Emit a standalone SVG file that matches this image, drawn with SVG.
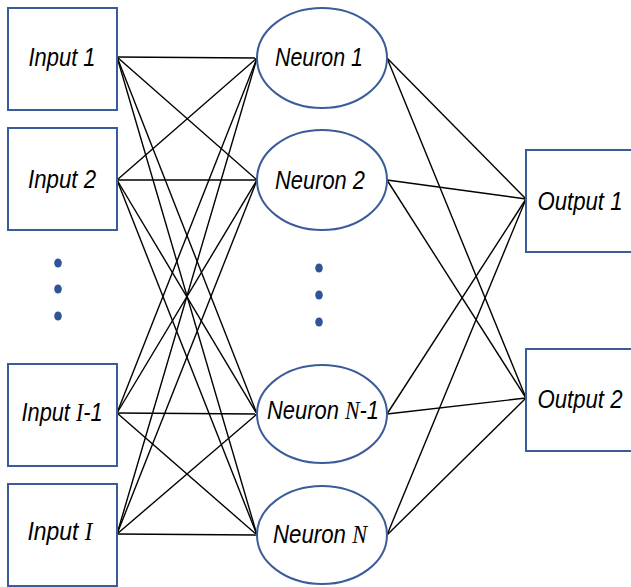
<svg xmlns="http://www.w3.org/2000/svg" width="631" height="587" viewBox="0 0 631 587">
  <style>
    .box { fill: #ffffff; stroke: #3B5C9A; stroke-width: 2; }
    .cell { fill: #ffffff; stroke: #3B5C9A; stroke-width: 2; }
    .edge { stroke: #000000; stroke-width: 1.4; fill: none; }
    .lbl { font-family: "Liberation Sans", Arial, sans-serif; font-style: italic; font-size: 25px; fill: #000000; text-anchor: middle; }
    .sym { font-family: "Liberation Serif", "Times New Roman", serif; font-style: italic; }
    .dot { fill: #2F5597; }
  </style>

  <!-- connectors: inputs to hidden neurons, hidden neurons to outputs -->
  <g id="connectors">
    <line class="edge" x1="117" y1="57" x2="257" y2="58"/>
    <line class="edge" x1="117" y1="57" x2="257" y2="180"/>
    <line class="edge" x1="117" y1="57" x2="257" y2="414"/>
    <line class="edge" x1="117" y1="57" x2="257" y2="535"/>
    <line class="edge" x1="117" y1="180" x2="257" y2="58"/>
    <line class="edge" x1="117" y1="180" x2="257" y2="180"/>
    <line class="edge" x1="117" y1="180" x2="257" y2="414"/>
    <line class="edge" x1="117" y1="180" x2="257" y2="535"/>
    <line class="edge" x1="117" y1="413" x2="257" y2="58"/>
    <line class="edge" x1="117" y1="413" x2="257" y2="180"/>
    <line class="edge" x1="117" y1="413" x2="257" y2="414"/>
    <line class="edge" x1="117" y1="413" x2="257" y2="535"/>
    <line class="edge" x1="117" y1="534" x2="257" y2="58"/>
    <line class="edge" x1="117" y1="534" x2="257" y2="180"/>
    <line class="edge" x1="117" y1="534" x2="257" y2="414"/>
    <line class="edge" x1="117" y1="534" x2="257" y2="535"/>
    <line class="edge" x1="387" y1="58" x2="526" y2="199"/>
    <line class="edge" x1="387" y1="58" x2="526" y2="398"/>
    <line class="edge" x1="387" y1="180" x2="526" y2="199"/>
    <line class="edge" x1="387" y1="180" x2="526" y2="398"/>
    <line class="edge" x1="387" y1="414" x2="526" y2="199"/>
    <line class="edge" x1="387" y1="414" x2="526" y2="398"/>
    <line class="edge" x1="387" y1="535" x2="526" y2="199"/>
    <line class="edge" x1="387" y1="535" x2="526" y2="398"/>
  </g>

  <!-- input layer -->
  <g id="input-1">
    <rect class="box" x="8" y="8" width="109" height="102"/>
    <text class="lbl" x="62" y="66" textLength="67" lengthAdjust="spacingAndGlyphs">Input 1</text>
  </g>
  <g id="input-2">
    <rect class="box" x="8" y="128" width="109" height="102"/>
    <text class="lbl" x="62" y="188" textLength="68" lengthAdjust="spacingAndGlyphs">Input 2</text>
  </g>
  <g id="input-dots">
    <ellipse class="dot" cx="58" cy="263" rx="3.8" ry="4.6"/>
    <ellipse class="dot" cx="58" cy="289" rx="3.8" ry="4.6"/>
    <ellipse class="dot" cx="58" cy="316" rx="3.8" ry="4.6"/>
  </g>
  <g id="input-i-1">
    <rect class="box" x="8" y="364" width="109" height="102"/>
    <text class="lbl" x="62" y="421" textLength="81" lengthAdjust="spacingAndGlyphs">Input <tspan class="sym">I</tspan>-1</text>
  </g>
  <g id="input-i">
    <rect class="box" x="8" y="484" width="109" height="102"/>
    <text class="lbl" x="60" y="540" textLength="65" lengthAdjust="spacingAndGlyphs">Input <tspan class="sym">I</tspan></text>
  </g>

  <!-- hidden layer -->
  <g id="neuron-1">
    <ellipse class="cell" cx="322" cy="58" rx="65" ry="50"/>
    <text class="lbl" x="319" y="66" textLength="88" lengthAdjust="spacingAndGlyphs">Neuron 1</text>
  </g>
  <g id="neuron-2">
    <ellipse class="cell" cx="322" cy="180" rx="65" ry="50"/>
    <text class="lbl" x="320" y="189" textLength="90" lengthAdjust="spacingAndGlyphs">Neuron 2</text>
  </g>
  <g id="neuron-dots">
    <ellipse class="dot" cx="319" cy="268" rx="3.8" ry="4.6"/>
    <ellipse class="dot" cx="319" cy="295" rx="3.8" ry="4.6"/>
    <ellipse class="dot" cx="319" cy="322" rx="3.8" ry="4.6"/>
  </g>
  <g id="neuron-n-1">
    <ellipse class="cell" cx="322" cy="414" rx="65" ry="49"/>
    <text class="lbl" x="323" y="419" textLength="112" lengthAdjust="spacingAndGlyphs">Neuron <tspan class="sym">N</tspan>-1</text>
  </g>
  <g id="neuron-n">
    <ellipse class="cell" cx="322" cy="535" rx="65" ry="49"/>
    <text class="lbl" x="320" y="543" textLength="94" lengthAdjust="spacingAndGlyphs">Neuron <tspan class="sym">N</tspan></text>
  </g>

  <!-- output layer -->
  <g id="output-1">
    <rect class="box" x="526" y="150" width="112" height="102"/>
    <text class="lbl" x="580" y="210" textLength="85" lengthAdjust="spacingAndGlyphs">Output 1</text>
  </g>
  <g id="output-2">
    <rect class="box" x="526" y="349" width="112" height="102"/>
    <text class="lbl" x="580" y="408" textLength="85" lengthAdjust="spacingAndGlyphs">Output 2</text>
  </g>
</svg>
